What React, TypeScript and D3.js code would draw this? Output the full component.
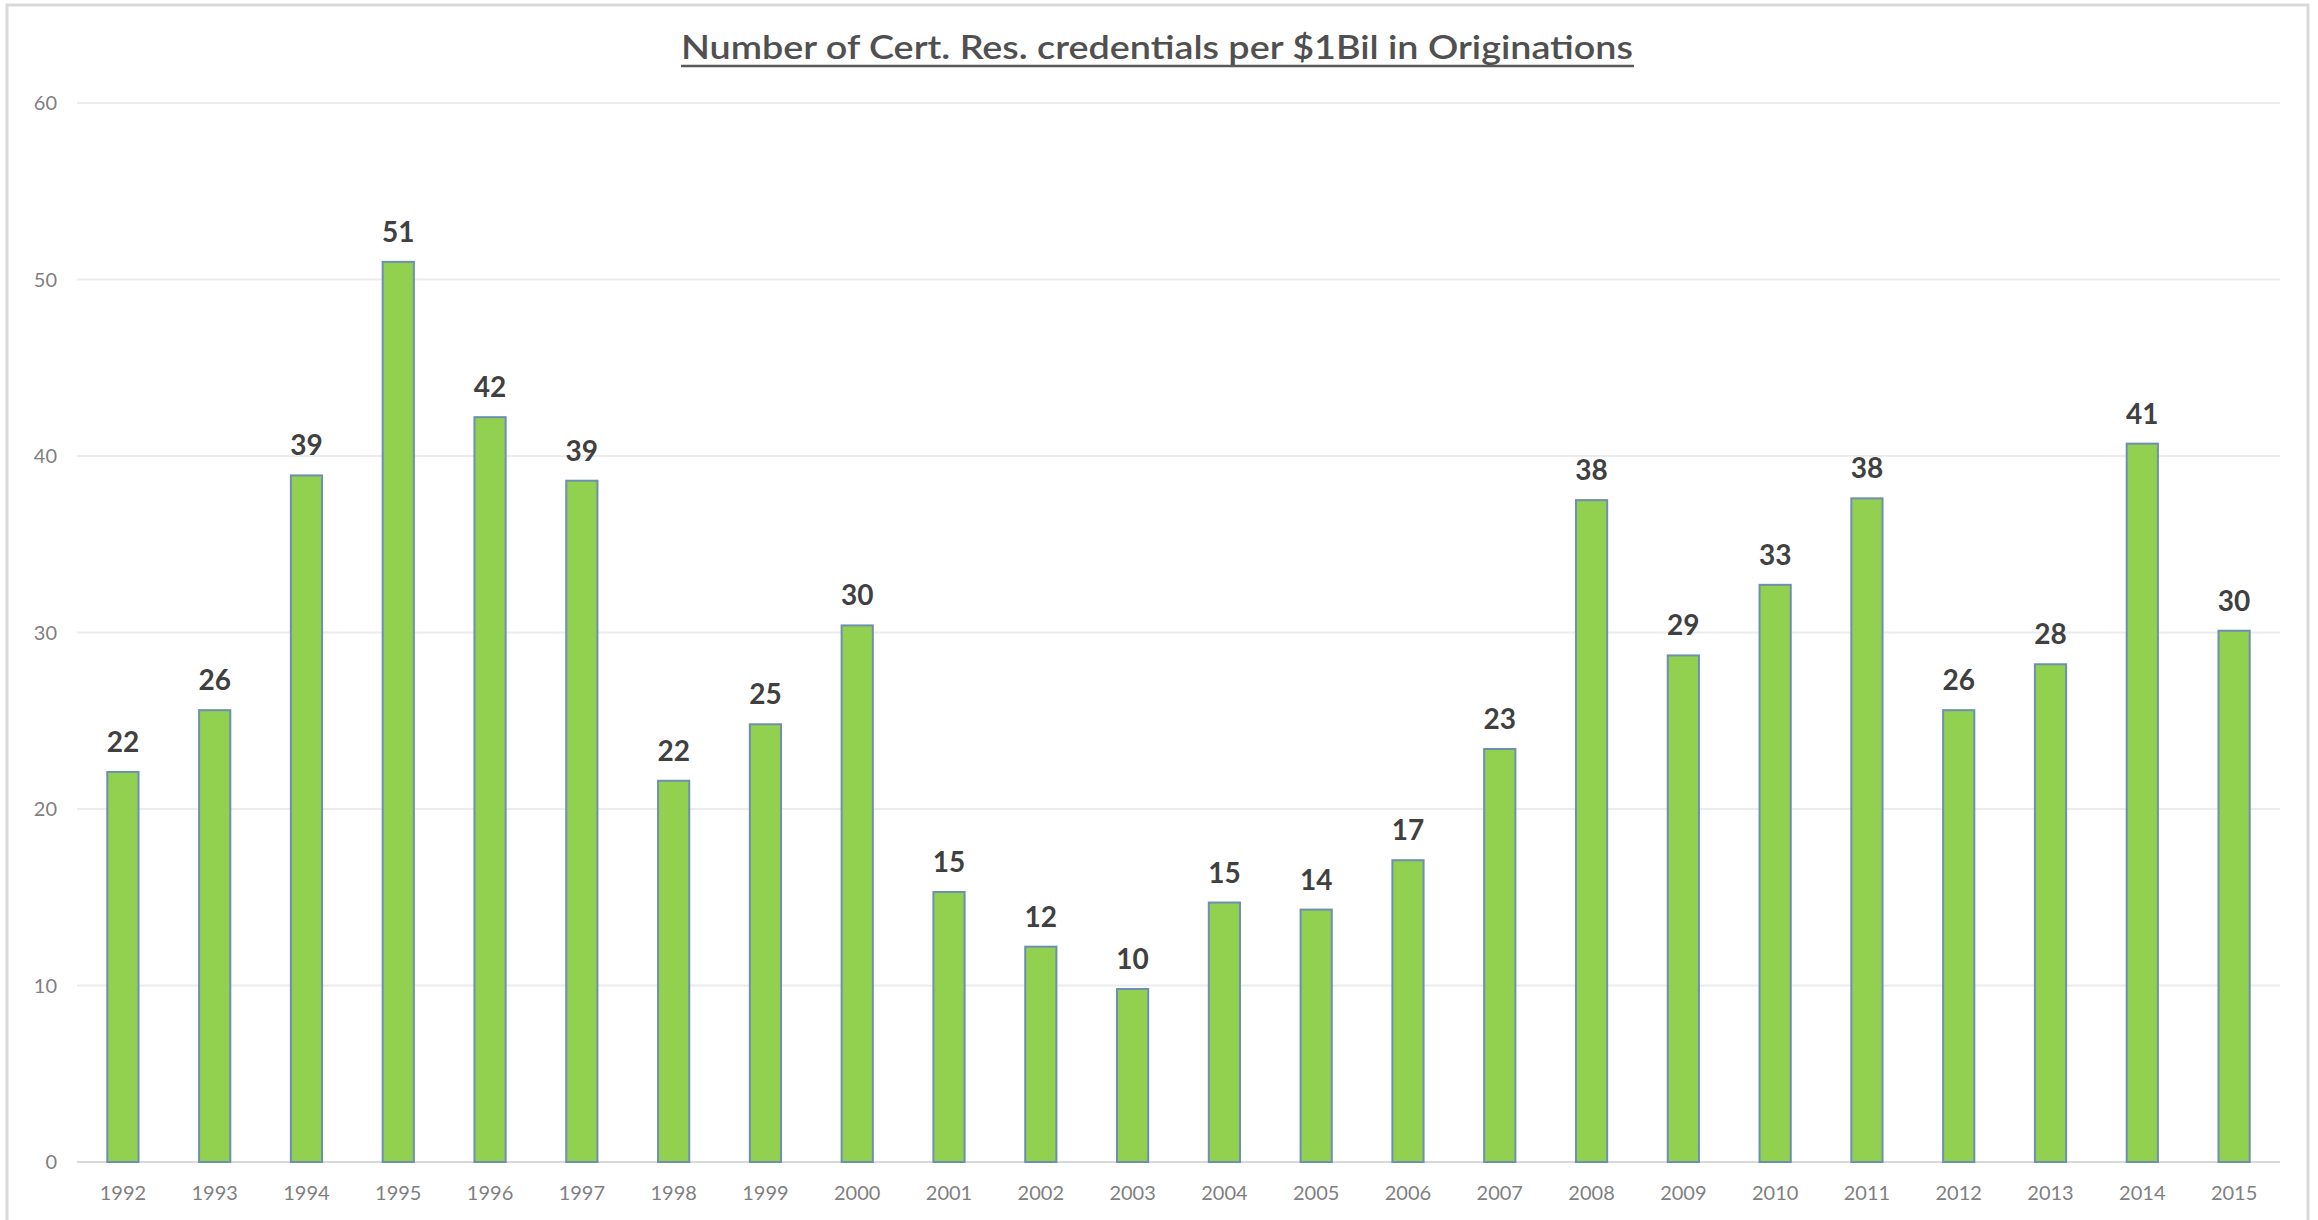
import React from "react";
import * as d3 from "d3";

const years = [
  "1992", "1993", "1994", "1995", "1996", "1997", "1998", "1999",
  "2000", "2001", "2002", "2003", "2004", "2005", "2006", "2007",
  "2008", "2009", "2010", "2011", "2012", "2013", "2014", "2015",
];

const credentials = [
  22.1, 25.6, 38.9, 51.0, 42.2, 38.6, 21.6, 24.8,
  30.4, 15.3, 12.2, 9.8, 14.7, 14.3, 17.1, 23.4,
  37.5, 28.7, 32.7, 37.6, 25.6, 28.2, 40.7, 30.1,
];

const yTicks = [0, 10, 20, 30, 40, 50, 60];

const title = "Number of Cert. Res. credentials per $1Bil in Originations";

const W = 2318;
const H = 1220;

const App: React.FC = () => {
  // plot area
  const left = 77;
  const right = 2280;
  const top = 103;
  const bottom = 1162;

  const x = d3
    .scaleBand<string>()
    .domain(years)
    .range([left, right])
    .paddingInner(0.66)
    .paddingOuter(0.33);

  const y = d3.scaleLinear().domain([0, 60]).range([bottom, top]);

  const font = "Lato, 'Open Sans', sans-serif";

  return (
    <svg
      width={W}
      height={H}
      style={{ position: "absolute", left: 0, top: 0, background: "#fff" }}
      fontFamily={font}
    >
      {/* chart border */}
      <rect x={7} y={5} width={2301} height={1230} fill="#fff" stroke="#d9d9d9" strokeWidth={3} />

      {/* title */}
      <text
        x={1157}
        y={59}
        textAnchor="middle"
        fontSize={32}
        fontWeight={600}
        fill="#505050"
        textLength={952}
        lengthAdjust="spacingAndGlyphs"
      >
        {title}
      </text>
      <line x1={681} x2={1634} y1={66} y2={66} stroke="#595959" strokeWidth={2.5} />

      {/* gridlines + y labels */}
      {yTicks.map((t) => (
        <g key={t}>
          <line
            x1={left}
            x2={right}
            y1={y(t)}
            y2={y(t)}
            stroke={t === 0 ? "#d9d9d9" : "#ececec"}
            strokeWidth={2}
          />
          <text
            x={57}
            y={y(t)}
            dy="0.35em"
            textAnchor="end"
            fontSize={20}
            fill="#7f7f7f"
          >
            {t}
          </text>
        </g>
      ))}

      {/* bars */}
      {years.map((yr, i) => {
        const v = credentials[i];
        const bx = x(yr) as number;
        return (
          <g key={yr}>
            <rect
              x={bx}
              y={y(v)}
              width={x.bandwidth()}
              height={y(0) - y(v)}
              fill="#92d050"
              stroke="#6d8fb0"
              strokeWidth={2}
            />
            <text
              x={bx + x.bandwidth() / 2}
              y={y(v) - 20}
              textAnchor="middle"
              fontSize={28}
              fontWeight={700}
              fill="#404040"
            >
              {Math.round(v)}
            </text>
            <text
              x={bx + x.bandwidth() / 2}
              y={1200}
              textAnchor="middle"
              fontSize={20}
              fill="#7f7f7f"
            >
              {yr}
            </text>
          </g>
        );
      })}
    </svg>
  );
};

export default App;
